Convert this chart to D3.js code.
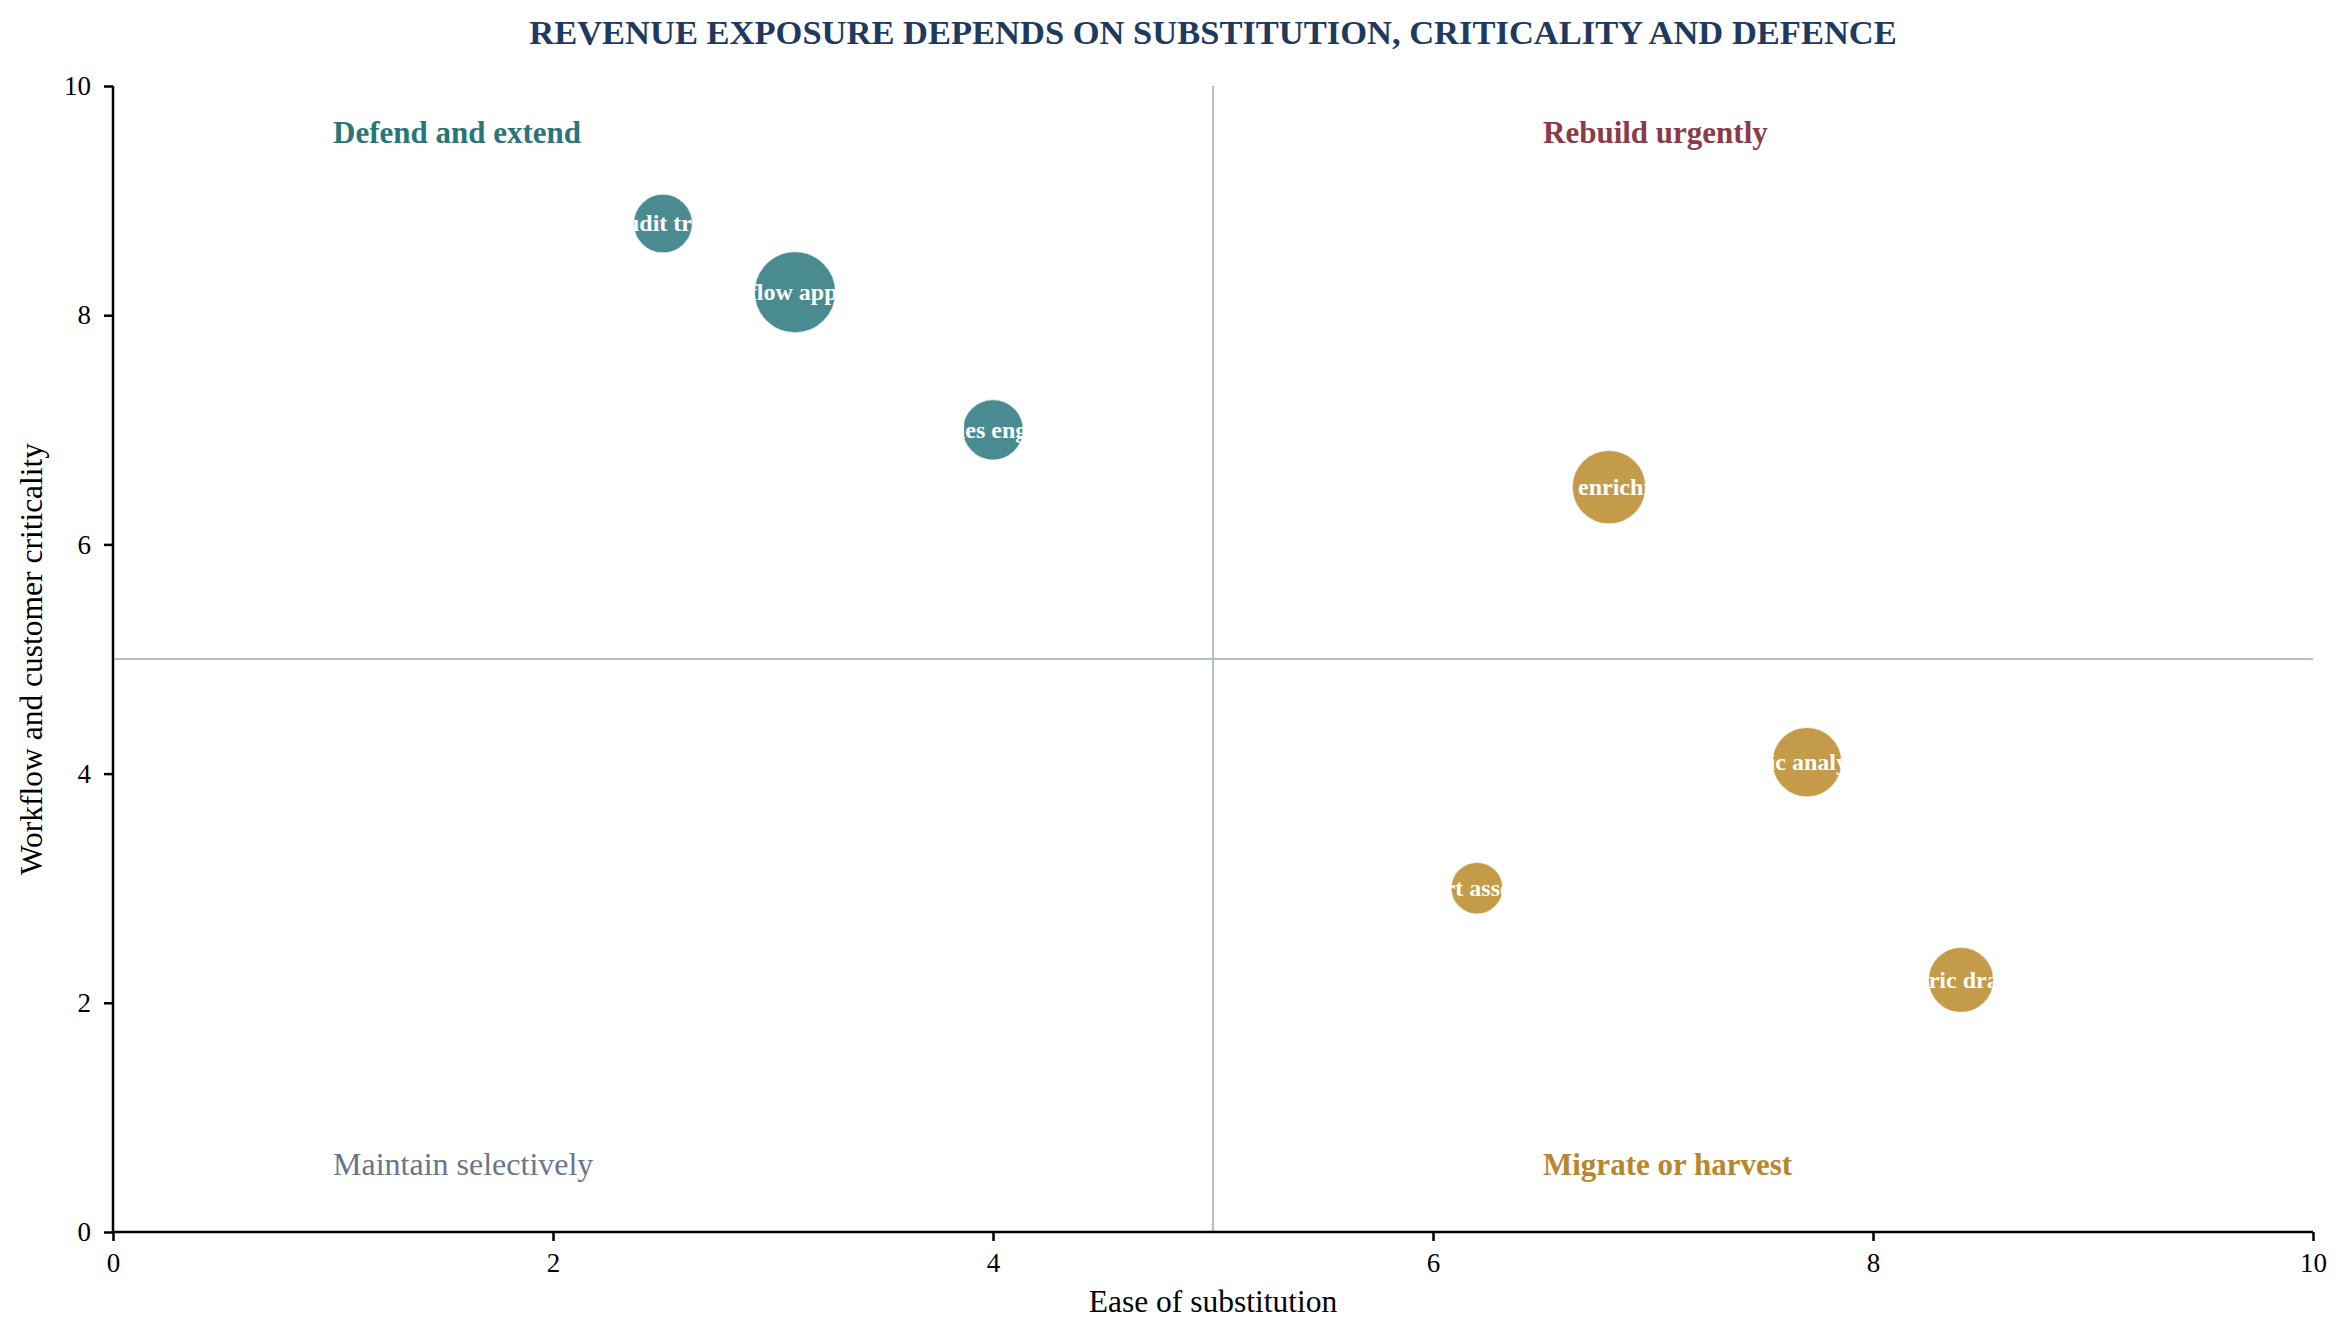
<!DOCTYPE html>
<html>
<head>
<meta charset="utf-8">
<script src="https://cdn.jsdelivr.net/npm/d3@7"></script>
<style>
  html, body { margin: 0; padding: 0; background: #ffffff; }
  svg { display: block; }
  text { font-family: "Liberation Serif", "Times New Roman", serif; }
</style>
</head>
<body>
<script>
// ---- data ----
const products = ["Audit trail", "Workflow approvals", "Rules engine", "Data enrichment", "Basic analytics", "Report assembly", "Generic drafting"];
const substitution = [2.5, 3.1, 4.0, 6.8, 7.7, 6.2, 8.4];
const criticality = [8.8, 8.2, 7.0, 6.5, 4.1, 3.0, 2.2];
const revenue = [18, 34, 19, 28, 25, 14, 22];
const groups = ["defend", "defend", "defend", "migrate", "migrate", "migrate", "migrate"];
const tickValues = [0, 2, 4, 6, 8, 10];
const quadrantNames = ["Defend and extend", "Rebuild urgently", "Maintain selectively", "Migrate or harvest"];
const quadrantX = [1, 6.5, 1, 6.5];
const quadrantY = [9.5, 9.5, 0.5, 0.5];
const quadrantKeys = ["defend", "rebuild", "maintain", "migrate"];

const W = 2350, H = 1341;
const M = { left: 113, right: 37, top: 86, bottom: 109 };

const fillColor = { defend: "#4A8B91", migrate: "#C49B48" };
const labelColor = { defend: "#2A7578", rebuild: "#8B3A4A", maintain: "#6B748A", migrate: "#B8862B" };

const svg = d3.select("body").append("svg").attr("width", W).attr("height", H);

const x = d3.scaleLinear().domain([0, 10]).range([M.left, W - M.right]);
const y = d3.scaleLinear().domain([0, 10]).range([H - M.bottom, M.top]);
const r = d3.scaleSqrt().domain([0, 34]).range([0, 41]);

// title
svg.append("text")
  .attr("x", (x(0) + x(10)) / 2).attr("y", 44)
  .attr("text-anchor", "middle")
  .attr("font-size", 34.5).attr("font-weight", "bold")
  .attr("fill", "#1F3A5F")
  .text("REVENUE EXPOSURE DEPENDS ON SUBSTITUTION, CRITICALITY AND DEFENCE");

// quadrant lines
svg.append("line")
  .attr("x1", x(5)).attr("x2", x(5)).attr("y1", y(0)).attr("y2", y(10))
  .attr("stroke", "#B4C0CC").attr("stroke-width", 2.2);
svg.append("line")
  .attr("x1", x(0)).attr("x2", x(10)).attr("y1", y(5)).attr("y2", y(5))
  .attr("stroke", "#B4C0CC").attr("stroke-width", 2.2);

// quadrant labels
quadrantNames.forEach((name, i) => {
  const regular = quadrantKeys[i] === "maintain";
  svg.append("text")
    .attr("x", x(quadrantX[i])).attr("y", y(quadrantY[i]))
    .attr("font-size", regular ? 32 : 31)
    .attr("font-weight", regular ? "normal" : "bold")
    .attr("fill", labelColor[quadrantKeys[i]])
    .text(name);
});

// axes
const xAxis = d3.axisBottom(x).tickValues(tickValues).tickSize(9).tickPadding(12).tickFormat(d3.format("d"));
const yAxis = d3.axisLeft(y).tickValues(tickValues).tickSize(9).tickPadding(13).tickFormat(d3.format("d"));

const gx = svg.append("g").attr("transform", `translate(0,${y(0)})`).call(xAxis);
const gy = svg.append("g").attr("transform", `translate(${x(0)},0)`).call(yAxis);
[gx, gy].forEach(g => {
  g.selectAll("path").attr("stroke", "#000").attr("stroke-width", 2.5);
  g.selectAll("line").attr("stroke", "#000").attr("stroke-width", 2.5);
  g.selectAll("text").attr("font-size", 27).attr("fill", "#000")
    .attr("font-family", "'Liberation Serif', 'Times New Roman', serif");
});
gx.select(".domain").attr("d", `M${x(0)},0H${x(10)}`);
gy.select(".domain").attr("d", `M0,${y(0)}V${y(10)}`);

// axis labels
svg.append("text")
  .attr("x", (x(0) + x(10)) / 2).attr("y", 1312)
  .attr("text-anchor", "middle").attr("font-size", 31.5).attr("fill", "#000")
  .text("Ease of substitution");
svg.append("text")
  .attr("transform", `translate(42,${(y(0) + y(10)) / 2}) rotate(-90)`)
  .attr("text-anchor", "middle").attr("font-size", 31.5).attr("fill", "#000")
  .text("Workflow and customer criticality");

// bubbles
const data = products.map((p, i) => ({
  name: p, sx: substitution[i], cy: criticality[i], rev: revenue[i], g: groups[i], i
}));

const defs = svg.append("defs");
data.forEach(d => {
  defs.append("clipPath").attr("id", "clip" + d.i)
    .append("circle")
    .attr("cx", x(d.sx)).attr("cy", y(d.cy)).attr("r", r(d.rev));
});

const nodes = svg.append("g").selectAll("g").data(data).join("g");
nodes.append("circle")
  .attr("cx", d => x(d.sx)).attr("cy", d => y(d.cy)).attr("r", d => r(d.rev))
  .attr("fill", d => fillColor[d.g])
  .attr("stroke", "#ffffff").attr("stroke-opacity", 0.8).attr("stroke-width", 2);
nodes.append("text")
  .attr("clip-path", d => `url(#clip${d.i})`)
  .attr("x", d => x(d.sx)).attr("y", d => y(d.cy))
  .attr("dy", "0.33em")
  .attr("text-anchor", "middle")
  .attr("font-size", 24).attr("font-weight", "bold").attr("fill", "#ffffff")
  .text(d => d.name);
</script>
</body>
</html>
